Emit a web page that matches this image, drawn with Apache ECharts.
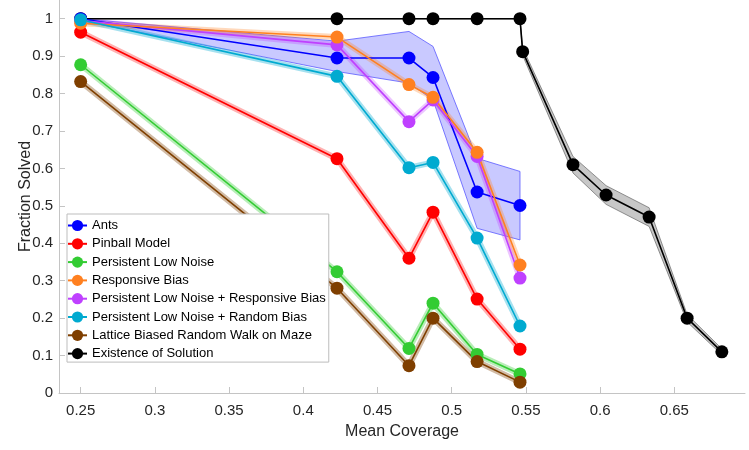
<!DOCTYPE html>
<html><head><meta charset="utf-8">
<script src="https://cdn.jsdelivr.net/npm/echarts@6/dist/echarts.min.js"></script>
<style>html,body{margin:0;padding:0;background:#fff}#c{width:749px;height:450px}</style>
</head><body><div id="c"></div>
<script>
// ---- data ----
const coverage = [0.25, 0.4227, 0.4712, 0.4874, 0.5171, 0.546];
const ants = [1.0, 0.895, 0.895, 0.843, 0.537, 0.501];
const antsUpper = [1.0, 0.94, 0.966, 0.926, 0.627, 0.592];
const antsLower = [0.995, 0.859, 0.828, 0.783, 0.44, 0.409];
const pinball = [0.964, 0.626, 0.36, 0.483, 0.251, 0.117];
const persistentLowNoise = [0.877, 0.324, 0.119, 0.24, 0.103, 0.051];
const responsiveBias = [0.988, 0.951, 0.824, 0.79, 0.643, 0.342];
const plnResponsive = [0.995, 0.93, 0.725, 0.783, 0.632, 0.307];
const plnRandom = [0.997, 0.846, 0.602, 0.616, 0.414, 0.179];
const lattice = [0.832, 0.28, 0.073, 0.2, 0.084, 0.029];
const existX = [0.25, 0.4227, 0.4712, 0.4874, 0.5171, 0.546, 0.5478, 0.5817, 0.604, 0.633, 0.6586, 0.682];
const existY = [1, 1, 1, 1, 1, 1, 0.912, 0.61, 0.529, 0.47, 0.20, 0.11];
const existErr = [0, 0, 0, 0, 0, 0, 0.01, 0.022, 0.025, 0.025, 0.01, 0.008];
const xTicks = [0.25, 0.3, 0.35, 0.4, 0.45, 0.5, 0.55, 0.6, 0.65];
const yTicks = [0, 0.1, 0.2, 0.3, 0.4, 0.5, 0.6, 0.7, 0.8, 0.9, 1];
const names = ['Ants', 'Pinball Model', 'Persistent Low Noise', 'Responsive Bias',
  'Persistent Low Noise + Responsive Bias', 'Persistent Low Noise + Random Bias',
  'Lattice Biased Random Walk on Maze', 'Existence of Solution'];

const FONT = 'Liberation Sans, Arial, Helvetica, sans-serif';
const pair = (xs, ys) => xs.map((x, i) => [x, ys[i]]);

function band(xs, up, lo, fill, stroke, z) {
  return {
    type: 'custom', silent: true, z: z, clip: true,
    data: [[xs[0], up[0]]],
    renderItem: function (params, api) {
      const pts = [];
      for (let i = 0; i < xs.length; i++) pts.push(api.coord([xs[i], up[i]]));
      for (let i = xs.length - 1; i >= 0; i--) pts.push(api.coord([xs[i], lo[i]]));
      return { type: 'polygon', shape: { points: pts },
        style: { fill: fill, stroke: stroke, lineWidth: 1 } };
    }
  };
}

const series = [];
// bands
series.push(band(existX, existY.map((v, i) => v + existErr[i]), existY.map((v, i) => v - existErr[i]),
  'rgba(0,0,0,0.22)', 'rgba(80,80,80,0.6)', 1));
series.push(band(coverage, antsUpper, antsLower, 'rgba(60,60,255,0.28)', 'rgba(90,90,255,0.8)', 1));

const defs = [
  // name, x, y, color, halo
  [names[7], existX, existY, '#000000', null],
  [names[0], coverage, ants, '#0000ff', null],
  [names[1], coverage, pinball, '#ff0000', 'rgba(255,0,0,0.3)'],
  [names[2], coverage, persistentLowNoise, '#33cc33', 'rgba(51,204,51,0.35)'],
  [names[4], coverage, plnResponsive, '#bf40ff', 'rgba(191,64,255,0.3)'],
  [names[3], coverage, responsiveBias, '#ff8020', 'rgba(255,128,32,0.3)'],
  [names[5], coverage, plnRandom, '#00aad0', 'rgba(0,170,208,0.35)'],
  [names[6], coverage, lattice, '#7f3f00', 'rgba(127,63,0,0.35)']
];
defs.forEach(d => {
  if (d[4]) series.push({ type: 'line', name: '_halo_' + d[0], data: pair(d[1], d[2]), showSymbol: false,
    symbol: 'none', silent: true, z: 2, lineStyle: { color: d[4], width: 6 }, animation: false });
});
defs.forEach(d => {
  series.push({ type: 'line', name: d[0], data: pair(d[1], d[2]), symbol: 'circle', symbolSize: 13,
    z: 3, itemStyle: { color: d[3] }, lineStyle: { color: d[3], width: 1.6 }, animation: false });
});

const axisCommon = {
  axisLine: { show: true, lineStyle: { color: '#c4c4c4', width: 1 } },
  axisTick: { show: true, inside: true, length: 6, lineStyle: { color: '#c4c4c4' } },
  splitLine: { show: false },
  nameMoveOverlap: false,
  nameTextStyle: { fontFamily: FONT, fontSize: 16, color: '#262626' }
};

const chart = echarts.init(document.getElementById('c'), null, { renderer: 'canvas' });
chart.setOption({
  animation: false,
  backgroundColor: '#fff',
  grid: { left: 59, right: 4, top: 0, bottom: 57, containLabel: false },
  xAxis: Object.assign({}, axisCommon, {
    type: 'value', min: 0.2354, max: 0.6976,
    name: 'Mean Coverage', nameLocation: 'middle', nameGap: 31,
    axisTick: Object.assign({}, axisCommon.axisTick, { customValues: xTicks }),
    axisLabel: { customValues: xTicks, fontFamily: FONT, fontSize: 15, color: '#262626', margin: 10 }
  }),
  yAxis: Object.assign({}, axisCommon, {
    type: 'value', min: 0, max: 1.05,
    name: 'Fraction Solved', nameLocation: 'middle', nameGap: 25,
    axisTick: Object.assign({}, axisCommon.axisTick, { customValues: yTicks }),
    axisLabel: { customValues: yTicks, fontFamily: FONT, fontSize: 15, color: '#262626', margin: 6 }
  }),
  legend: {
    data: names, orient: 'vertical', left: 67, top: 214,
    backgroundColor: '#fff', borderColor: '#bdbdbd', borderWidth: 1,
    padding: [5, 3, 2, 0], itemGap: 5.3, itemWidth: 19, itemHeight: 14,
    textStyle: { fontFamily: FONT, fontSize: 13, color: '#000' }
  },
  series: series
});
</script></body></html>
